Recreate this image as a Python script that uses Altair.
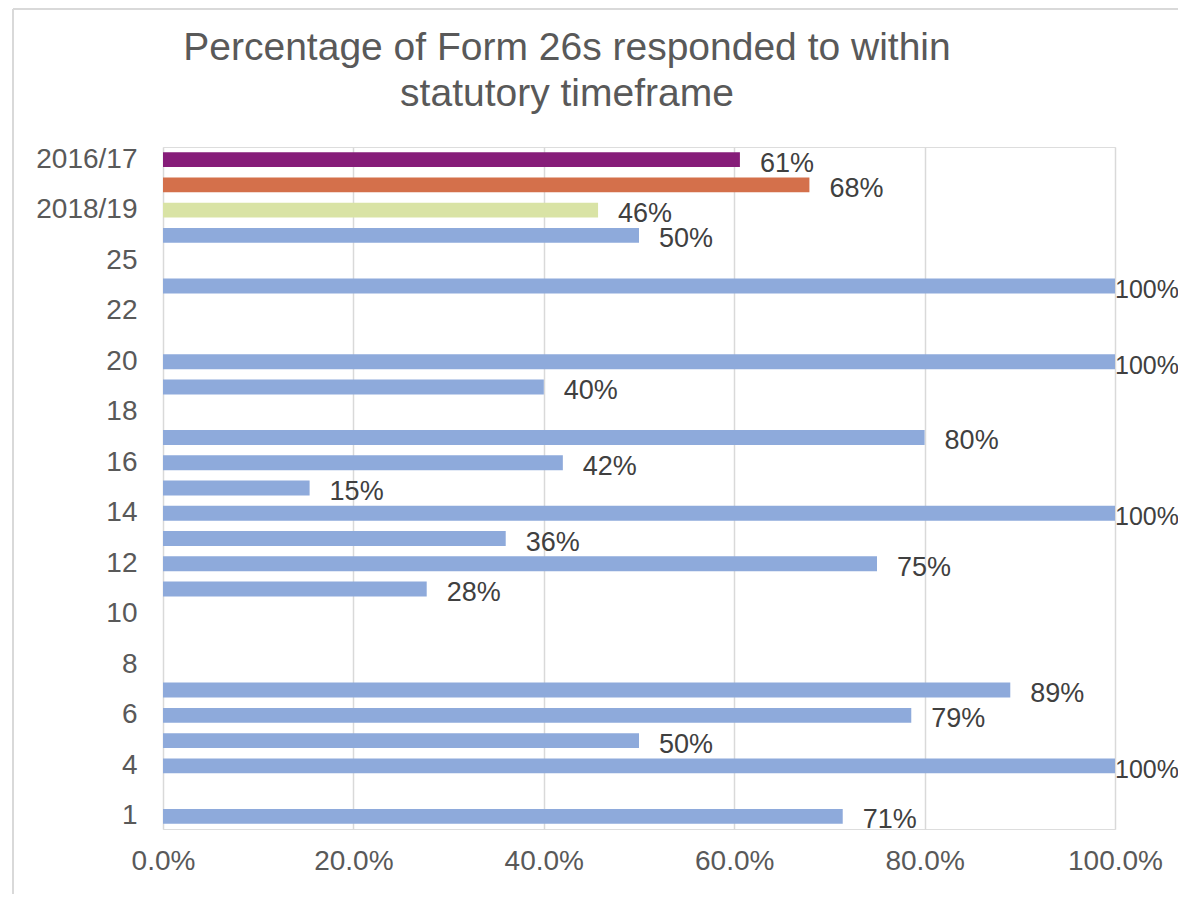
import altair as alt
import pandas as pd

# Categories from top to bottom (only every other label is displayed, as in the original)
categories = ["2016/17", "2017/18", "2018/19", "26", "25", "24", "22", "21", "20", "19",
              "18", "17", "16", "15", "14", "13", "12", "11", "10", "9", "8", "7",
              "6", "5", "4", "2", "1"]
values = [0.606, 0.679, 0.457, 0.50, None, 1.0, None, None, 1.0, 0.40,
          None, 0.80, 0.42, 0.154, 1.0, 0.36, 0.75, 0.277, None, None, None, 0.89,
          0.786, 0.50, 1.0, None, 0.714]
groups = ["2016/17", "2017/18", "2018/19"] + ["Sites"] * 24
shown_labels = ["2016/17", "2018/19", "25", "22", "20", "18", "16", "14", "12",
                "10", "8", "6", "4", "1"]
x_ticks = [0.0, 0.2, 0.4, 0.6, 0.8, 1.0]
group_domain = ["2016/17", "2017/18", "2018/19", "Sites"]
group_colours = ["#861D79", "#D4704B", "#D9E3A5", "#8EAADB"]
title_text = "Percentage of Form 26s responded to within\nstatutory timeframe"

df = pd.DataFrame({"category": categories, "value": values, "group": groups})

FONT = "Liberation Sans"
GREY = "#595959"

y_enc = alt.Y(
    "category:N",
    sort=categories,
    scale=alt.Scale(domain=categories, paddingInner=0.41, paddingOuter=0.205),
    axis=alt.Axis(values=shown_labels, labelFontSize=28, labelColor=GREY, labelFont=FONT,
                  labelPadding=26, ticks=False, domain=False, title=None,
                  labelOverlap=False, grid=False),
)
x_enc = alt.X(
    "value:Q",
    scale=alt.Scale(domain=[0, 1], nice=False, zero=True),
    axis=alt.Axis(values=x_ticks, format=".1%", labelFontSize=28, labelColor=GREY,
                  labelFont=FONT, grid=True, gridColor="#d9d9d9", gridWidth=1.5,
                  domain=False, ticks=False, labelPadding=18, title=None,
                  labelFlush=False, labelOverlap=False),
)

base = alt.Chart(df)

bars = base.mark_bar().encode(
    y=y_enc,
    x=x_enc,
    color=alt.Color("group:N", scale=alt.Scale(domain=group_domain, range=group_colours),
                    legend=None),
)

labels_outside = base.transform_filter(
    "datum.value != null && datum.value < 1"
).mark_text(align="left", baseline="middle", dx=20, dy=4, fontSize=27,
            color="#404040", font=FONT).encode(
    y=y_enc, x=x_enc, text=alt.Text("value:Q", format=".0%")
)

labels_full = base.transform_filter(
    "datum.value != null && datum.value >= 1"
).mark_text(align="left", baseline="middle", dx=0, dy=4, fontSize=25,
            color="#404040", font=FONT).encode(
    y=y_enc, x=x_enc, text=alt.Text("value:Q", format=".0%")
)

single = pd.DataFrame({"t": [title_text]})
title_mark = alt.Chart(single).mark_text(
    align="center", baseline="alphabetic", fontSize=39, font=FONT, color=GREY,
    lineBreak="\n", lineHeight=46,
).encode(text="t:N", x=alt.value(404), y=alt.value(-87))

frame_top = alt.Chart(single).mark_rule(color="#d9d9d9", strokeWidth=2).encode(
    x=alt.value(-150), x2=alt.value(1100), y=alt.value(-138)
)
frame_left = alt.Chart(single).mark_rule(color="#d9d9d9", strokeWidth=2).encode(
    x=alt.value(-150), y=alt.value(-138), y2=alt.value(800)
)

chart = alt.layer(frame_top, frame_left, title_mark, bars, labels_outside, labels_full).properties(
    width=952,
    height=682,
    autosize=alt.AutoSizeParams(type="none"),
    padding={"left": 155, "top": 139, "right": 63, "bottom": 65},
).configure_view(strokeWidth=0).configure(background="white")

chart.save("out.html", embed_options={"renderer": "svg", "actions": False})
